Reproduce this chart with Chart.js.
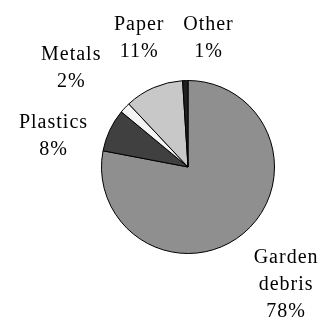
<!DOCTYPE html>
<html>
<head>
<meta charset="utf-8">
<script src="https://cdn.jsdelivr.net/npm/chart.js@4/dist/chart.umd.min.js"></script>
<style>
html,body{margin:0;padding:0;background:#fff;}
#wrap{width:324px;height:322px;position:relative;}
</style>
</head>
<body>
<div id="wrap"><canvas id="c" width="324" height="322"></canvas></div>
<script>
const categories = ["Garden debris", "Plastics", "Metals", "Paper", "Other"];
const labelLines = [["Garden", "debris"], ["Plastics"], ["Metals"], ["Paper"], ["Other"]];
const percentValues = [78, 8, 2, 11, 1];
const sliceColors = ["#8f8f8f", "#404040", "#f4f4f4", "#c8c8c8", "#202020"];

// label placement relative to each slice: angle shift (deg) and distance as multiple of radius
const labelPlacement = [
  {shift: 0, dist: 1.77},
  {shift: -12.5, dist: 1.60},
  {shift: -3.2, dist: 1.77},
  {shift: 2.4, dist: 1.59},
  {shift: 10.6, dist: 1.51}
];

const labelPlugin = {
  id: 'outLabels',
  afterDatasetsDraw(chart) {
    const ctx = chart.ctx;
    const meta = chart.getDatasetMeta(0);
    ctx.save();
    ctx.font = '20px "Liberation Serif", "Times New Roman", serif';
    ctx.fillStyle = '#000';
    ctx.textAlign = 'center';
    ctx.textBaseline = 'middle';
    try { ctx.letterSpacing = '1px'; } catch (e) {}
    const lh = 27;
    meta.data.forEach((arc, i) => {
      const p = arc.getProps(['x', 'y', 'startAngle', 'endAngle', 'outerRadius'], true);
      const mid = (p.startAngle + p.endAngle) / 2 + labelPlacement[i].shift * Math.PI / 180;
      const d = p.outerRadius * labelPlacement[i].dist;
      const cx = p.x + Math.cos(mid) * d;
      const cy = p.y + Math.sin(mid) * d;
      const lines = labelLines[i].concat([percentValues[i] + '%']);
      const top = cy - (lines.length - 1) * lh / 2;
      lines.forEach((t, k) => ctx.fillText(t, cx + 0.5, top + k * lh));
    });
    ctx.restore();
  }
};

new Chart(document.getElementById('c'), {
  type: 'pie',
  data: {
    labels: categories,
    datasets: [{
      data: percentValues,
      backgroundColor: sliceColors,
      borderColor: '#000',
      borderWidth: 1
    }]
  },
  options: {
    responsive: false,
    animation: false,
    layout: {padding: {left: 101, right: 49, top: 80, bottom: 68}},
    plugins: {legend: {display: false}, tooltip: {enabled: false}}
  },
  plugins: [labelPlugin]
});
</script>
</body>
</html>
